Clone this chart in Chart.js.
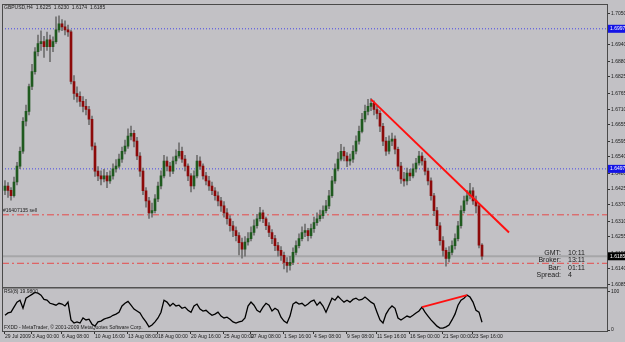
<!DOCTYPE html>
<html>
<head>
<meta charset="utf-8">
<script src="https://cdn.jsdelivr.net/npm/chart.js@4.4.1/dist/chart.umd.min.js"></script>
<style>
  html, body { margin: 0; padding: 0; background: #c2c1c5; }
  #wrap { position: relative; width: 625px; height: 342px; }
</style>
</head>
<body>
<div id="wrap"><canvas id="chart" width="625" height="342"></canvas></div>
<script>
// GBPUSD H4 candles, prices in pips above 1.6000
const firstOpenPips = 420;
const closePips = [436,420,401,450,507,560,667,702,791,844,
  915,944,951,933,958,933,951,993,1015,1004,
  993,986,809,766,756,738,720,709,674,578,
  489,472,461,472,454,472,497,507,532,560,
  578,614,624,596,543,489,419,383,340,348,
  390,436,472,525,507,489,525,543,560,532,
  507,472,436,472,525,507,472,454,436,419,
  401,383,365,340,319,294,277,259,234,210,
  236,248,270,294,319,340,319,294,270,248,
  223,206,188,163,152,163,199,223,248,270,
  277,259,284,305,319,330,348,365,401,454,
  497,532,560,543,525,532,560,596,631,674,
  702,720,731,709,695,649,596,560,596,603,
  567,507,461,454,482,472,497,518,543,525,
  489,454,401,348,294,241,206,177,199,223,
  248,294,348,383,401,419,383,365,225,185];
const highPips = [455,448,430,468,520,575,680,725,800,870,
  930,975,990,970,985,975,968,1040,1043,1030,
  1025,1010,992,830,790,772,755,745,720,685,
  590,505,490,495,485,490,515,530,550,575,
  600,640,650,635,610,555,500,430,395,375,
  405,450,490,545,540,520,540,565,590,575,
  545,515,480,490,545,540,515,485,470,450,
  430,415,395,380,355,330,310,290,270,250,
  255,270,290,315,335,360,350,325,305,280,
  260,235,220,200,180,185,215,240,265,290,
  300,285,300,325,340,350,365,385,420,470,
  515,555,585,575,555,550,580,615,650,695,
  725,745,748,740,720,705,660,610,615,625,
  615,575,520,485,500,495,515,535,560,555,
  535,500,465,410,360,305,255,215,220,240,
  265,310,365,400,420,445,430,400,370,230];
const lowPips = [405,395,385,396,440,498,552,650,690,780,
  835,900,920,895,920,880,915,945,985,990,
  975,970,800,745,735,720,700,690,655,565,
  470,455,440,450,430,445,460,485,500,520,
  550,570,600,575,530,470,405,360,320,325,
  340,380,425,465,490,470,480,515,535,520,
  490,455,415,425,465,495,460,440,420,405,
  385,365,345,325,300,275,255,240,190,178,
  185,225,240,260,285,310,305,280,255,230,
  205,185,170,140,128,135,155,190,215,240,
  255,240,250,270,295,310,320,340,355,395,
  445,490,525,525,505,510,520,550,585,625,
  665,690,705,690,675,630,580,545,550,580,
  550,490,445,435,440,455,465,485,510,510,
  475,440,385,330,280,225,185,150,165,190,
  210,240,285,340,370,390,370,340,215,174];

// RSI(8) lower window
const rsiValues = [38,44,46,59,72,77,56,82,87,92,
  97,95,90,79,77,69,67,64,69,67,
  62,72,26,18,21,18,31,26,28,15,
  10,21,23,28,31,33,38,41,46,62,
  69,74,64,54,49,44,31,21,8,13,
  21,31,46,77,72,62,69,62,64,56,
  59,51,46,62,67,54,49,51,44,38,
  41,46,36,31,33,28,21,18,21,23,
  31,62,72,64,51,46,59,69,64,49,
  56,51,33,23,18,36,67,72,67,69,
  62,67,74,77,64,72,62,46,64,82,
  77,87,79,72,77,72,79,82,77,79,
  85,79,72,67,46,26,18,41,54,62,
  56,31,26,31,36,33,38,44,49,59,
  46,36,26,18,10,5,5,8,13,26,
  41,64,77,82,90,85,72,51,46,20];

// time axis labels and the bar they sit on
const dateLabels = ['29 Jul 2009','3 Aug 00:00','6 Aug 08:00','10 Aug 16:00','13 Aug 08:00','18 Aug 00:00',
  '20 Aug 16:00','25 Aug 00:00','27 Aug 08:00','1 Sep 16:00','4 Sep 08:00','9 Sep 08:00',
  '11 Sep 16:00','16 Sep 00:00','21 Sep 00:00','23 Sep 16:00'];
const dateBars = [0,9,19,30,41,51,62,73,82,93,103,114,124,135,146,156];

const priceTicks = [1.6085,1.6140,1.6195,1.6255,1.6310,1.6370,1.6425,1.6480,1.6540,1.6595,
  1.6655,1.6710,1.6765,1.6825,1.6880,1.6940,1.6995,1.7050];
const rsiTicks = [0, 100];

// drawn objects
const trendBars = [122, 168];
const trendPrices = [1.6745, 1.6270];
const rsiTrendBars = [139, 154];
const rsiTrendValues = [59, 90];
const blueLevels = [1.6997, 1.6497];
const redLevels = [1.6333, 1.6160];
const bidPrice = 1.6185;

const X_MIN = -1, X_MAX = 200.667;
const toPrice = p => 1.6 + p / 10000;
const opens = closePips.map((c, i) => i === 0 ? firstOpenPips : closePips[i - 1]);

const bodyData = closePips.map((c, i) => ({ x: i, y: [toPrice(opens[i]), toPrice(c)] }));
const wickData = closePips.map((c, i) => ({ x: i, y: [toPrice(lowPips[i]), toPrice(highPips[i])] }));
const rsiData = rsiValues.map((v, i) => ({ x: i, y: v }));

// horizontal levels as two-point lines across the window
const levelLine = (v, color, dash, width) => ({
  type: 'line', yAxisID: 'y', order: 4,
  data: [{ x: X_MIN, y: v }, { x: X_MAX, y: v }],
  borderColor: color, borderWidth: width, borderDash: dash, pointRadius: 0
});

const smallFont = '"Liberation Sans Narrow", "Liberation Sans"';
const tiny = '5px ' + smallFont;

const decor = {
  id: 'decor',
  beforeDraw(chart) {
    const c = chart.ctx;
    c.save();
    c.fillStyle = '#c2c1c5';
    c.fillRect(0, 0, chart.width, chart.height);
    c.restore();
  },
  afterDraw(chart) {
    const c = chart.ctx, a = chart.chartArea, y = chart.scales.y, r = chart.scales.yR;
    c.save();
    // pane frames
    c.strokeStyle = '#4a4a4a';
    c.lineWidth = 1;
    c.strokeRect(a.left + 0.5, y.top + 0.5, a.right - a.left, y.bottom - y.top);
    c.strokeRect(a.left + 0.5, r.top + 0.5, a.right - a.left, r.bottom - r.top);
    // axis price boxes
    const box = (v, bg) => {
      const py = y.getPixelForValue(v);
      c.fillStyle = bg;
      c.fillRect(a.right + 1, py - 4, 17, 8);
      c.fillStyle = '#fff';
      c.font = tiny;
      c.textBaseline = 'middle';
      c.textAlign = 'left';
      c.fillText(v.toFixed(4), a.right + 3, py);
    };
    blueLevels.forEach(v => box(v, '#1414e6'));
    box(bidPrice, '#000');
    // texts
    c.fillStyle = '#202020';
    c.font = tiny;
    c.textAlign = 'left';
    c.textBaseline = 'middle';
    c.fillText('GBPUSD,H4  1.6225  1.6230  1.6174  1.6185', a.left + 2, y.top + 4);
    c.fillText('#16407135 sell', a.left + 1, y.getPixelForValue(redLevels[0]) - 4);
    c.fillText('RSI(8) 19.9800', a.left + 2, r.top + 4);
    c.fillText('FXDD - MetaTrader, \u00a9 2001-2009 MetaQuotes Software Corp.', a.left + 2, r.bottom - 3);
    c.font = '7px "Liberation Sans"';
    const names = ['GMT:', 'Broker:', 'Bar:', 'Spread:'];
    const vals = ['10:11', '13:11', '01:11', '4'];
    names.forEach((n, i) => {
      const ty = 253 + i * 7.3;
      c.textAlign = 'right';
      c.fillText(n, 561, ty);
      c.textAlign = 'left';
      c.fillText(vals[i], 568, ty);
    });
    c.restore();
  }
};

new Chart(document.getElementById('chart'), {
  data: {
    datasets: [
      ...blueLevels.map(v => levelLine(v, '#4646e6', [1, 2], 1)),
      ...redLevels.map(v => levelLine(v, '#e64a4a', [7, 3, 2, 3], 1)),
      levelLine(bidPrice, '#a6a6a8', [], 2),
      {
        type: 'bar', data: wickData, yAxisID: 'y', order: 3, grouped: false,
        barThickness: 1, backgroundColor: '#6f6f6f', borderWidth: 0
      },
      {
        type: 'bar', data: bodyData, yAxisID: 'y', order: 2, grouped: false,
        barThickness: 2, borderWidth: 0,
        backgroundColor: ctx => {
          const v = ctx.raw && ctx.raw.y;
          return v && v[1] >= v[0] ? '#1f5a1f' : '#8c0a0a';
        }
      },
      {
        type: 'line', yAxisID: 'y', order: 1,
        data: trendBars.map((b, i) => ({ x: b, y: trendPrices[i] })),
        borderColor: '#ff1010', borderWidth: 2, pointRadius: 0
      },
      {
        type: 'line', yAxisID: 'yR', order: 1, data: rsiData,
        borderColor: '#000', borderWidth: 1.3, pointRadius: 0, tension: 0
      },
      {
        type: 'line', yAxisID: 'yR', order: 0,
        data: rsiTrendBars.map((b, i) => ({ x: b, y: rsiTrendValues[i] })),
        borderColor: '#ff1010', borderWidth: 2, pointRadius: 0
      }
    ]
  },
  options: {
    responsive: false,
    animation: false,
    layout: { padding: { left: 2, top: 2, right: 0, bottom: 0 } },
    plugins: { legend: { display: false }, tooltip: { enabled: false } },
    scales: {
      x: {
        type: 'linear', min: X_MIN, max: X_MAX, offset: false,
        afterBuildTicks: s => { s.ticks = dateBars.map(v => ({ value: v })); },
        afterFit: s => { s.height = 11; },
        grid: { drawOnChartArea: false, offset: false, tickLength: 3, color: '#333' },
        border: { display: false },
        ticks: {
          autoSkip: false, maxRotation: 0, align: 'start', padding: 0,
          color: '#1a1a1a', font: { family: smallFont, size: 5 },
          callback: (v, i) => dateLabels[i]
        }
      },
      y: {
        type: 'linear', position: 'right', stack: 'v', stackWeight: 285,
        min: 1.60744, max: 1.70855,
        afterBuildTicks: s => { s.ticks = priceTicks.map(v => ({ value: v })); },
        afterFit: s => { s.width = 18; },
        grid: { drawOnChartArea: false, tickLength: 3, color: '#333' },
        border: { display: false },
        ticks: {
          autoSkip: false, padding: 1, color: '#1a1a1a', font: { family: smallFont, size: 5 },
          callback: v => v.toFixed(4)
        }
      },
      yR: {
        type: 'linear', position: 'right', stack: 'v', stackWeight: 44,
        min: -2.56, max: 110.3,
        afterBuildTicks: s => { s.ticks = rsiTicks.map(v => ({ value: v })); },
        afterFit: s => { s.width = 18; },
        grid: { drawOnChartArea: false, tickLength: 3, color: '#333' },
        border: { display: false },
        ticks: {
          autoSkip: false, padding: 1, color: '#1a1a1a', font: { family: smallFont, size: 5 },
          callback: v => String(v)
        }
      }
    }
  },
  plugins: [decor]
});
</script>
</body>
</html>
